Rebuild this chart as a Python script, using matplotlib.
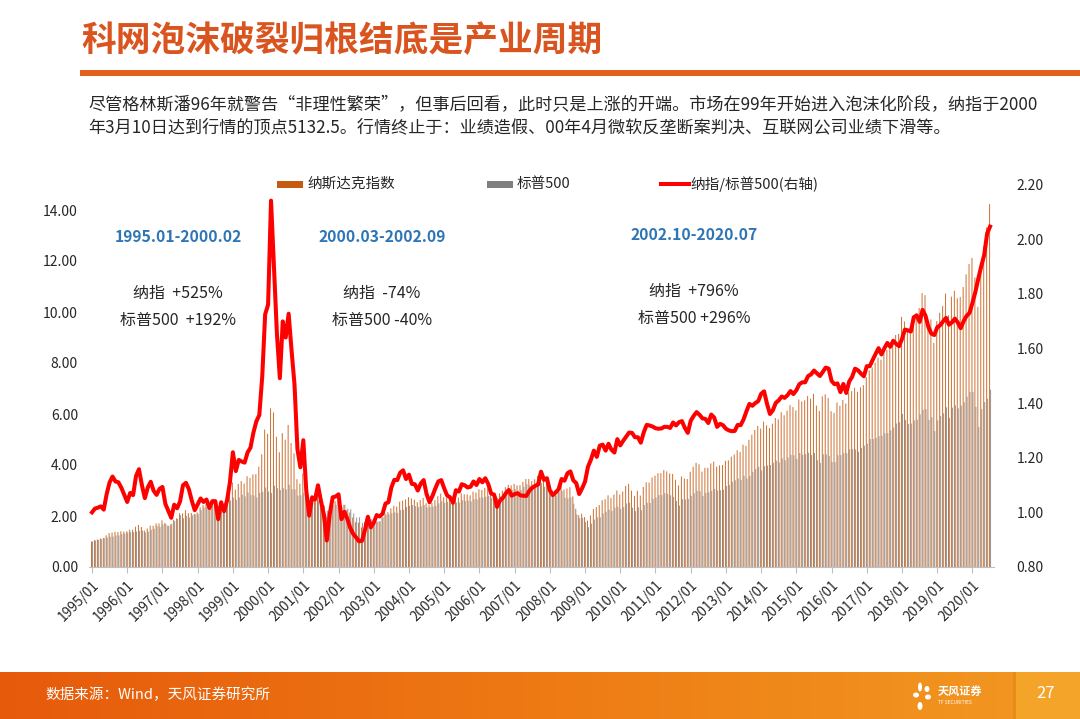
import numpy as np
import pandas as pd
import matplotlib.pyplot as plt
from matplotlib.patches import Rectangle, Ellipse
from matplotlib.lines import Line2D
from matplotlib.colors import LinearSegmentedColormap

plt.rcParams['font.family'] = ['Noto Sans CJK SC', 'DejaVu Sans']

# ------------------------------------------
# Data (monthly, 1995/01 = 1)
# ------------------------------------------

months = pd.date_range('1995-01', '2020-07', freq='MS').strftime('%Y/%m').tolist()

nasdaq = [
    1.00, 1.05, 1.08, 1.12, 1.14, 1.24, 1.33, 1.35, 1.38, 1.37, 1.40, 1.39,
    1.40, 1.46, 1.46, 1.58, 1.65, 1.57, 1.43, 1.51, 1.62, 1.62, 1.71, 1.71,
    1.83, 1.73, 1.62, 1.67, 1.85, 1.91, 2.11, 2.10, 2.23, 2.11, 2.12, 2.08,
    2.14, 2.34, 2.43, 2.47, 2.36, 2.51, 2.48, 1.99, 2.24, 2.35, 2.58, 2.90,
    3.32, 3.03, 3.26, 3.37, 3.27, 3.56, 3.49, 3.63, 3.64, 3.93, 4.42, 5.39,
    5.22, 6.22, 6.06, 5.11, 4.50, 5.25, 4.99, 5.57, 4.86, 4.46, 3.44, 3.27,
    3.67, 2.85, 2.44, 2.80, 2.79, 2.86, 2.68, 2.39, 1.98, 2.24, 2.56, 2.58,
    2.56, 2.29, 2.44, 2.24, 2.14, 1.94, 1.76, 1.74, 1.55, 1.76, 1.96, 1.77,
    1.75, 1.77, 1.78, 1.94, 2.11, 2.15, 2.30, 2.40, 2.37, 2.56, 2.60, 2.65,
    2.74, 2.69, 2.64, 2.54, 2.63, 2.71, 2.50, 2.43, 2.51, 2.62, 2.78, 2.88,
    2.73, 2.72, 2.65, 2.54, 2.74, 2.72, 2.89, 2.85, 2.85, 2.81, 2.96, 2.92,
    3.05, 3.02, 3.10, 3.08, 2.89, 2.88, 2.77, 2.89, 2.99, 3.13, 3.22, 3.20,
    3.26, 3.20, 3.21, 3.34, 3.45, 3.45, 3.37, 3.44, 3.58, 3.79, 3.52, 3.51,
    3.16, 3.01, 3.02, 3.19, 3.34, 3.04, 3.08, 3.13, 2.77, 2.28, 2.03, 2.09,
    1.96, 1.82, 2.02, 2.27, 2.35, 2.43, 2.62, 2.66, 2.81, 2.71, 2.84, 3.00,
    2.84, 2.96, 3.18, 3.26, 2.99, 2.79, 2.99, 2.80, 3.14, 3.32, 3.31, 3.51,
    3.58, 3.68, 3.68, 3.80, 3.75, 3.67, 3.65, 3.42, 3.20, 3.55, 3.47, 3.45,
    3.73, 3.93, 4.09, 4.03, 3.74, 3.89, 3.89, 4.06, 4.13, 3.94, 3.99, 4.00,
    4.16, 4.18, 4.33, 4.41, 4.58, 4.51, 4.80, 4.75, 4.99, 5.19, 5.38, 5.53,
    5.43, 5.70, 5.56, 5.45, 5.62, 5.84, 5.79, 6.07, 5.95, 6.13, 6.35, 6.27,
    6.14, 6.57, 6.49, 6.54, 6.71, 6.60, 6.79, 6.33, 6.12, 6.69, 6.77, 6.63,
    6.11, 6.04, 6.45, 6.32, 6.55, 6.41, 6.84, 6.90, 7.03, 6.87, 7.05, 7.13,
    7.44, 7.71, 7.83, 8.01, 8.21, 8.13, 8.41, 8.51, 8.60, 8.91, 9.10, 9.14,
    9.81, 9.63, 9.35, 9.36, 9.86, 9.95, 10.16, 10.74, 10.66, 9.67, 9.71, 8.79,
    9.64, 9.97, 10.24, 10.72, 9.87, 10.60, 10.83, 10.54, 10.59, 10.98, 11.48, 11.88,
    12.12, 11.35, 10.20, 11.77, 12.57, 13.32, 14.23,
]

sp500 = [
    1.00, 1.04, 1.06, 1.09, 1.13, 1.16, 1.19, 1.19, 1.24, 1.24, 1.29, 1.31,
    1.35, 1.36, 1.37, 1.39, 1.42, 1.43, 1.36, 1.39, 1.46, 1.50, 1.61, 1.57,
    1.67, 1.68, 1.61, 1.70, 1.80, 1.88, 2.03, 1.91, 2.01, 1.94, 2.03, 2.06,
    2.08, 2.23, 2.34, 2.36, 2.32, 2.41, 2.38, 2.03, 2.16, 2.34, 2.47, 2.61,
    2.72, 2.63, 2.73, 2.84, 2.77, 2.92, 2.82, 2.81, 2.73, 2.90, 2.95, 3.12,
    2.96, 2.90, 3.19, 3.09, 3.02, 3.09, 3.04, 3.23, 3.05, 3.04, 2.80, 2.81,
    2.90, 2.64, 2.47, 2.66, 2.67, 2.60, 2.57, 2.41, 2.21, 2.25, 2.42, 2.44,
    2.40, 2.35, 2.44, 2.29, 2.27, 2.10, 1.94, 1.95, 1.73, 1.88, 1.99, 1.87,
    1.82, 1.79, 1.80, 1.95, 2.05, 2.07, 2.11, 2.14, 2.12, 2.23, 2.25, 2.36,
    2.40, 2.43, 2.39, 2.35, 2.38, 2.43, 2.34, 2.35, 2.37, 2.40, 2.50, 2.58,
    2.51, 2.56, 2.51, 2.46, 2.53, 2.53, 2.62, 2.59, 2.61, 2.57, 2.66, 2.65,
    2.72, 2.72, 2.75, 2.79, 2.70, 2.70, 2.71, 2.77, 2.84, 2.93, 2.98, 3.02,
    3.06, 2.99, 3.02, 3.15, 3.25, 3.20, 3.09, 3.13, 3.25, 3.29, 3.15, 3.12,
    2.93, 2.83, 2.81, 2.95, 2.98, 2.72, 2.69, 2.73, 2.48, 2.06, 1.91, 1.92,
    1.76, 1.56, 1.70, 1.86, 1.95, 1.95, 2.10, 2.17, 2.25, 2.20, 2.33, 2.37,
    2.28, 2.35, 2.49, 2.52, 2.32, 2.19, 2.34, 2.23, 2.43, 2.52, 2.51, 2.67,
    2.73, 2.82, 2.82, 2.90, 2.86, 2.81, 2.75, 2.59, 2.41, 2.66, 2.65, 2.67,
    2.79, 2.90, 2.99, 2.97, 2.79, 2.90, 2.93, 2.99, 3.06, 3.00, 3.01, 3.03,
    3.18, 3.22, 3.34, 3.40, 3.47, 3.41, 3.58, 3.47, 3.57, 3.73, 3.84, 3.93,
    3.79, 3.95, 3.98, 4.00, 4.09, 4.17, 4.10, 4.26, 4.19, 4.29, 4.40, 4.38,
    4.24, 4.47, 4.40, 4.43, 4.48, 4.39, 4.47, 4.19, 4.08, 4.42, 4.42, 4.35,
    4.12, 4.11, 4.38, 4.39, 4.46, 4.46, 4.62, 4.62, 4.61, 4.52, 4.67, 4.76,
    4.84, 5.02, 5.02, 5.07, 5.13, 5.15, 5.25, 5.25, 5.36, 5.47, 5.63, 5.68,
    6.00, 5.77, 5.61, 5.63, 5.75, 5.78, 5.99, 6.17, 6.19, 5.77, 5.87, 5.33,
    5.75, 5.92, 6.03, 6.26, 5.85, 6.25, 6.34, 6.22, 6.33, 6.46, 6.68, 6.87,
    6.86, 6.28, 5.49, 6.19, 6.47, 6.59, 6.95,
]

# Nasdaq / S&P 500 (right axis)
ratio = [
    1.000, 1.014, 1.017, 1.022, 1.010, 1.067, 1.110, 1.131, 1.113, 1.110, 1.090, 1.064,
    1.038, 1.071, 1.063, 1.133, 1.158, 1.100, 1.052, 1.091, 1.112, 1.079, 1.064, 1.086,
    1.093, 1.031, 1.006, 0.980, 1.028, 1.015, 1.040, 1.099, 1.108, 1.085, 1.043, 1.008,
    1.029, 1.051, 1.038, 1.047, 1.016, 1.041, 1.041, 0.975, 1.037, 1.004, 1.043, 1.111,
    1.220, 1.151, 1.192, 1.186, 1.182, 1.219, 1.237, 1.292, 1.333, 1.356, 1.496, 1.725,
    1.760, 2.141, 1.900, 1.655, 1.491, 1.699, 1.640, 1.727, 1.592, 1.468, 1.231, 1.165,
    1.264, 1.081, 0.988, 1.055, 1.047, 1.099, 1.042, 0.992, 0.897, 0.993, 1.055, 1.058,
    1.066, 0.975, 1.002, 0.976, 0.943, 0.921, 0.908, 0.894, 0.896, 0.935, 0.984, 0.945,
    0.962, 0.990, 0.985, 0.995, 1.032, 1.037, 1.091, 1.119, 1.118, 1.145, 1.154, 1.122,
    1.138, 1.104, 1.103, 1.080, 1.105, 1.118, 1.067, 1.037, 1.060, 1.088, 1.113, 1.118,
    1.088, 1.062, 1.055, 1.035, 1.081, 1.076, 1.103, 1.099, 1.091, 1.094, 1.113, 1.100,
    1.122, 1.110, 1.125, 1.104, 1.069, 1.065, 1.020, 1.043, 1.053, 1.070, 1.082, 1.061,
    1.067, 1.070, 1.062, 1.061, 1.060, 1.079, 1.090, 1.097, 1.102, 1.149, 1.119, 1.125,
    1.080, 1.063, 1.073, 1.085, 1.122, 1.116, 1.143, 1.150, 1.117, 1.107, 1.067, 1.088,
    1.113, 1.167, 1.193, 1.226, 1.203, 1.244, 1.248, 1.226, 1.251, 1.229, 1.219, 1.268,
    1.245, 1.262, 1.277, 1.292, 1.291, 1.275, 1.275, 1.255, 1.293, 1.320, 1.318, 1.314,
    1.308, 1.306, 1.307, 1.313, 1.313, 1.309, 1.329, 1.318, 1.330, 1.334, 1.309, 1.291,
    1.335, 1.353, 1.367, 1.357, 1.344, 1.342, 1.327, 1.358, 1.347, 1.313, 1.324, 1.319,
    1.306, 1.300, 1.297, 1.298, 1.320, 1.319, 1.340, 1.370, 1.397, 1.390, 1.400, 1.407,
    1.434, 1.443, 1.397, 1.360, 1.374, 1.401, 1.410, 1.424, 1.419, 1.429, 1.444, 1.433,
    1.447, 1.469, 1.476, 1.476, 1.499, 1.505, 1.519, 1.509, 1.499, 1.514, 1.530, 1.526,
    1.481, 1.469, 1.472, 1.440, 1.470, 1.437, 1.479, 1.496, 1.526, 1.520, 1.508, 1.498,
    1.535, 1.535, 1.558, 1.580, 1.601, 1.578, 1.601, 1.620, 1.606, 1.628, 1.617, 1.608,
    1.635, 1.669, 1.666, 1.662, 1.714, 1.721, 1.697, 1.741, 1.720, 1.678, 1.654, 1.649,
    1.677, 1.685, 1.699, 1.712, 1.687, 1.695, 1.709, 1.695, 1.674, 1.700, 1.719, 1.730,
    1.767, 1.807, 1.856, 1.901, 1.942, 2.021, 2.046,
]

left_ticks = [0, 2, 4, 6, 8, 10, 12, 14]
right_ticks = [0.8, 1.0, 1.2, 1.4, 1.6, 1.8, 2.0, 2.2]

annotations = [
    ('1995.01-2000.02', '纳指  +525%', '标普500  +192%', 178, 237),
    ('2000.03-2002.09', '纳指  -74%', '标普500 -40%', 382, 237),
    ('2002.10-2020.07', '纳指  +796%', '标普500 +296%', 694, 235),
]

# ------------------------------------------
# Figure (pixel helpers)
# ------------------------------------------

W, H = 1080, 719

def fx(px):
    return px / W

def fy(py):
    return 1 - py / H

fig = plt.figure(figsize=(10.8, 7.19), dpi=100)

ORANGE = '#C55A11'
GREY = '#7F7F7F'
TXT = '#262626'

# title + rule
fig.text(fx(81), fy(41), '科网泡沫破裂归根结底是产业周期', fontsize=25,
         fontweight='bold', color='#D9541E', ha='left', va='center')
fig.add_artist(Rectangle((fx(80), fy(76)), 1 - fx(80), 6 / H,
                         transform=fig.transFigure, color='#E0601E', lw=0))

fig.text(fx(88), fy(104),
         '尽管格林斯潘96年就警告“非理性繁荣”，但事后回看，此时只是上涨的开端。市场在99年开始进入泡沫化阶段，纳指于2000',
         fontsize=12.3, color=TXT, ha='left', va='center')
fig.text(fx(88), fy(127),
         '年3月10日达到行情的顶点5132.5。行情终止于：业绩造假、00年4月微软反垄断案判决、互联网公司业绩下滑等。',
         fontsize=12.3, color=TXT, ha='left', va='center')

# ------------------------------------------
# Chart
# ------------------------------------------

x = np.arange(len(months))

ax = fig.add_axes([fx(89.07), fy(567), 905.4 / W, 382.5 / H])
ax.bar(x - 0.17, nasdaq, width=0.34, color=ORANGE, alpha=0.85,
       linewidth=0, snap=False)
ax.bar(x + 0.17, sp500, width=0.34, color=GREY, alpha=0.8,
       linewidth=0, snap=False)

ax.set_xlim(-1, 307.5)
ax.set_ylim(0, 15)
ax.set_yticks(left_ticks)
ax.set_yticklabels([f'{v:.2f}' for v in left_ticks])
ax.set_xticks(x[::12])
ax.set_xticklabels(months[::12], rotation=45, ha='right',
                   rotation_mode='anchor')

for s in ['left', 'right', 'top']:
    ax.spines[s].set_visible(False)
ax.spines['bottom'].set_color('#BFBFBF')

ax.tick_params(axis='y', length=0, pad=8, labelsize=10, labelcolor=TXT)
ax.tick_params(axis='x', length=4, color='#BFBFBF', pad=4,
               labelsize=9.8, labelcolor=TXT)

ax2 = ax.twinx()
ax2.plot(x, ratio, color='#FF0000', linewidth=2.9, solid_joinstyle='round')
ax2.set_ylim(0.8, 2.2)
ax2.set_yticks(right_ticks)
ax2.set_yticklabels([f'{v:.2f}' for v in right_ticks])
ax2.tick_params(axis='y', length=0, pad=16, labelsize=10, labelcolor=TXT)
for s in ax2.spines.values():
    s.set_visible(False)

# legend
fig.add_artist(Rectangle((fx(277), fy(188)), 26 / W, 7 / H,
                         transform=fig.transFigure, color=ORANGE, lw=0))
fig.text(fx(307), fy(184), '纳斯达克指数', fontsize=10.5, color=TXT,
         ha='left', va='center')
fig.add_artist(Rectangle((fx(487), fy(188)), 26 / W, 7 / H,
                         transform=fig.transFigure, color=GREY, lw=0))
fig.text(fx(517), fy(184), '标普500', fontsize=10.5, color=TXT,
         ha='left', va='center')
fig.add_artist(Line2D([fx(661), fx(689)], [fy(184), fy(184)],
                      transform=fig.transFigure, color='#FF0000', lw=2.9))
fig.text(fx(690), fy(184), '纳指/标普500(右轴)', fontsize=10.5, color=TXT,
         ha='left', va='center')

# period notes
for period, nas_txt, sp_txt, cx, cy in annotations:
    fig.text(fx(cx), fy(cy), period, fontsize=11.3, fontweight='bold',
             color='#2E75B6', ha='center', va='center')
    fig.text(fx(cx), fy(cy + 56), nas_txt, fontsize=11.5, color=TXT,
             ha='center', va='center')
    fig.text(fx(cx), fy(cy + 83), sp_txt, fontsize=11.5, color=TXT,
             ha='center', va='center')

# ------------------------------------------
# Footer
# ------------------------------------------

fax = fig.add_axes([0, 0, 1, 47 / H])
cmap = LinearSegmentedColormap.from_list('foot', ['#E65A0C', '#EE7A14', '#F29A22'])
fax.imshow(np.linspace(0, 1, 256).reshape(1, -1), cmap=cmap, aspect='auto',
           extent=[0, W, 0, 47])
fax.add_patch(Rectangle((1013, 0), 67, 47, color='#F4A428', lw=0))
fax.add_patch(Rectangle((1013, 0), 3, 47, color='#E98A1C', lw=0))
for ex, ey, ew, eh in [(920, 32, 4, 9), (927, 30, 5, 6), (916, 24, 6, 5),
                       (928, 22, 6, 5), (920, 13, 5, 8)]:
    fax.add_patch(Ellipse((ex, ey), ew, eh, color='white', lw=0))
fax.set_xlim(0, W)
fax.set_ylim(0, 47)
fax.axis('off')

fig.text(fx(45), fy(695), '数据来源：Wind，天风证券研究所', fontsize=10.5,
         color='white', ha='left', va='center')
fig.text(fx(938), fy(691), '天风证券', fontsize=8, fontweight='bold',
         color='white', ha='left', va='center')
fig.text(fx(938), fy(702), 'TF SECURITIES', fontsize=3.5,
         color='white', ha='left', va='center')
fig.text(fx(1046), fy(694), '27', fontsize=12, color='white',
         ha='center', va='center')

fig.savefig('out.png', dpi=100)
